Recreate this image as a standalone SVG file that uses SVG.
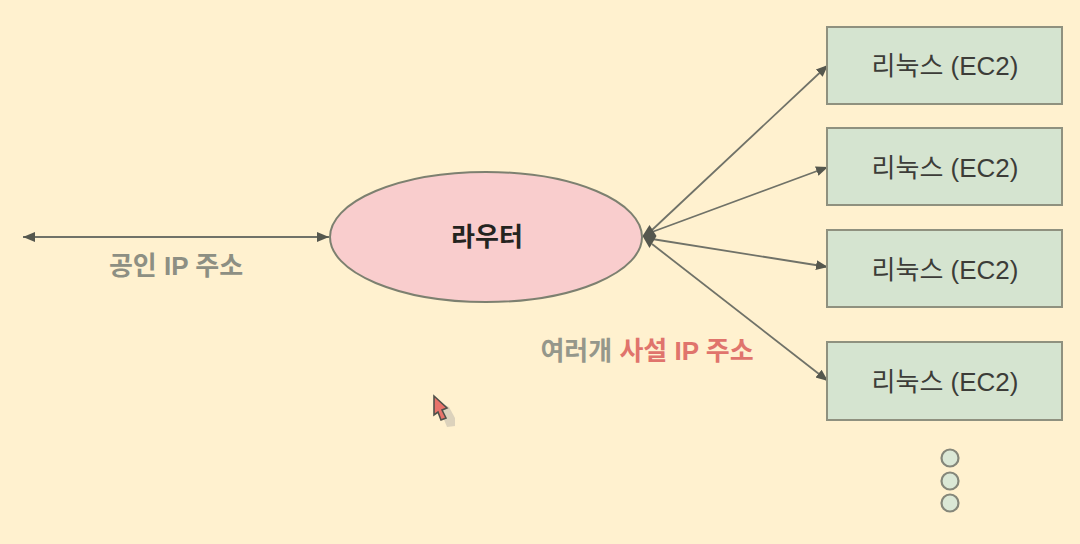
<svg xmlns="http://www.w3.org/2000/svg" width="1080" height="544" viewBox="0 0 1080 544">
<defs>
<marker id="arrow" markerUnits="userSpaceOnUse" markerWidth="14" markerHeight="12" refX="12" refY="5" orient="auto-start-reverse" viewBox="0 0 14 10"><path d="M0 0L12 5L0 10Z" fill="#55574e"/></marker>
</defs>
<style>
.l{stroke:#707268;stroke-width:1.800;fill:none}
.box{fill:#d5e4d0;stroke:#8f917f;stroke-width:2}
.t{font-family:"Liberation Sans","Noto Sans CJK KR",sans-serif;text-anchor:middle}
.boxt{font-size:26px;fill:#3c3c38}
.dot{fill:#dbe8d6;stroke:#85877a;stroke-width:2.200}
</style>
<rect width="1080" height="544" fill="#fff1cf"/>
<g id="connectors">
<line class="l" x1="23" y1="237" x2="329" y2="237" marker-start="url(#arrow)" marker-end="url(#arrow)"/>
<line class="l" x1="652" y1="230" x2="828" y2="65" marker-end="url(#arrow)"/>
<line class="l" x1="652" y1="232" x2="828" y2="167" marker-end="url(#arrow)"/>
<line class="l" x1="652" y1="239" x2="828" y2="267" marker-end="url(#arrow)"/>
<line class="l" x1="652" y1="244" x2="828" y2="381" marker-end="url(#arrow)"/>
<path d="M642.500 236L649.500 225L656.500 236L649.500 248Z" fill="#55574e"/>
</g>
<g id="router"><ellipse cx="486" cy="237" rx="156" ry="65" fill="#f9cdcd" stroke="#7d8070" stroke-width="2"/><text class="t" x="487" y="246" font-size="26" font-weight="700" fill="#24241f">라우터</text></g>
<g id="ec2-1"><rect class="box" x="827" y="27" width="235" height="77"/><text class="t boxt" x="945" y="75">리눅스 (EC2)</text></g>
<g id="ec2-2"><rect class="box" x="827" y="128" width="235" height="77"/><text class="t boxt" x="945" y="177">리눅스 (EC2)</text></g>
<g id="ec2-3"><rect class="box" x="827" y="230" width="235" height="77"/><text class="t boxt" x="945" y="279">리눅스 (EC2)</text></g>
<g id="ec2-4"><rect class="box" x="827" y="342" width="235" height="78"/><text class="t boxt" x="945" y="391">리눅스 (EC2)</text></g>
<g id="dots"><circle class="dot" cx="950" cy="458" r="8.500"/><circle class="dot" cx="950" cy="481" r="8.500"/><circle class="dot" cx="950" cy="503" r="8.500"/></g>
<g id="public-ip"><text class="t" x="176" y="275" font-size="26" font-weight="700" fill="#8d8f83">공인 IP 주소</text></g>
<g id="private-ip"><text class="t" x="647" y="360" font-size="26" font-weight="700" fill="#95978b">여러개 <tspan fill="#e0746c">사설 IP 주소</tspan></text></g>
<g id="cursor"><path d="M441 403L449 407L455 418L455 426L447 427L443 417Z" fill="#d3cbb6" opacity=".8"/><path d="M434 396L447 408L442 410L446 418L441 420L438 412L434 415Z" fill="#e8736a" stroke="#50514a" stroke-width="1.600"/></g>
</svg>
